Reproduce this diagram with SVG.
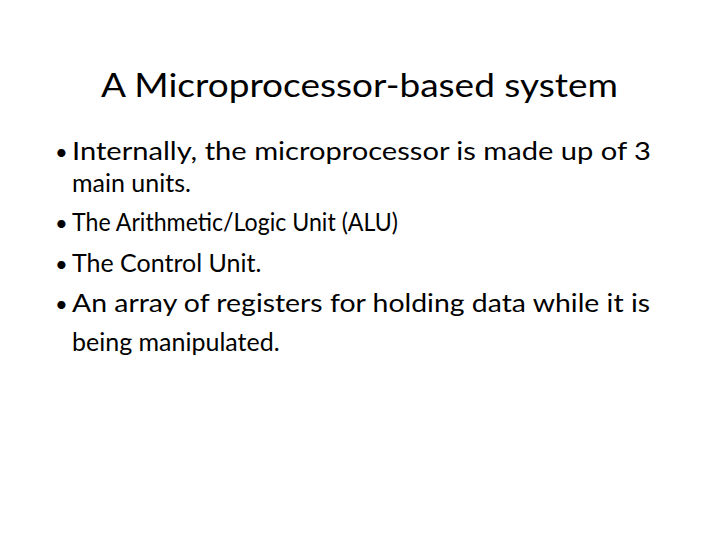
<svg xmlns="http://www.w3.org/2000/svg" width="720" height="540" viewBox="0 0 720 540">
<style>
text{font-family:Lato,"Liberation Sans",sans-serif;fill:#000}
.t{font-size:32px}
.b{font-size:25px}
.d{font-size:22px}
</style>
<rect width="720" height="540" fill="#fff"/>
<g id="title"><text class="t" x="101" y="97" textLength="517" lengthAdjust="spacingAndGlyphs">A Microprocessor-based system</text></g>
<g id="bullets">
<text class="d" x="55" y="160">•</text>
<text class="b" x="72" y="160" textLength="579" lengthAdjust="spacingAndGlyphs">Internally, the microprocessor is made up of 3</text>
<text class="b" x="72" y="192">main units.</text>
<text class="d" x="55" y="231">•</text>
<text class="b" x="72" y="231" textLength="326" lengthAdjust="spacingAndGlyphs">The Arithmetic/Logic Unit (ALU)</text>
<text class="d" x="55" y="272">•</text>
<text class="b" x="72" y="272">The Control Unit.</text>
<text class="d" x="55" y="312">•</text>
<text class="b" x="72" y="312" textLength="578" lengthAdjust="spacingAndGlyphs">An array of registers for holding data while it is</text>
<text class="b" x="72" y="351">being manipulated.</text>
</g>
</svg>
